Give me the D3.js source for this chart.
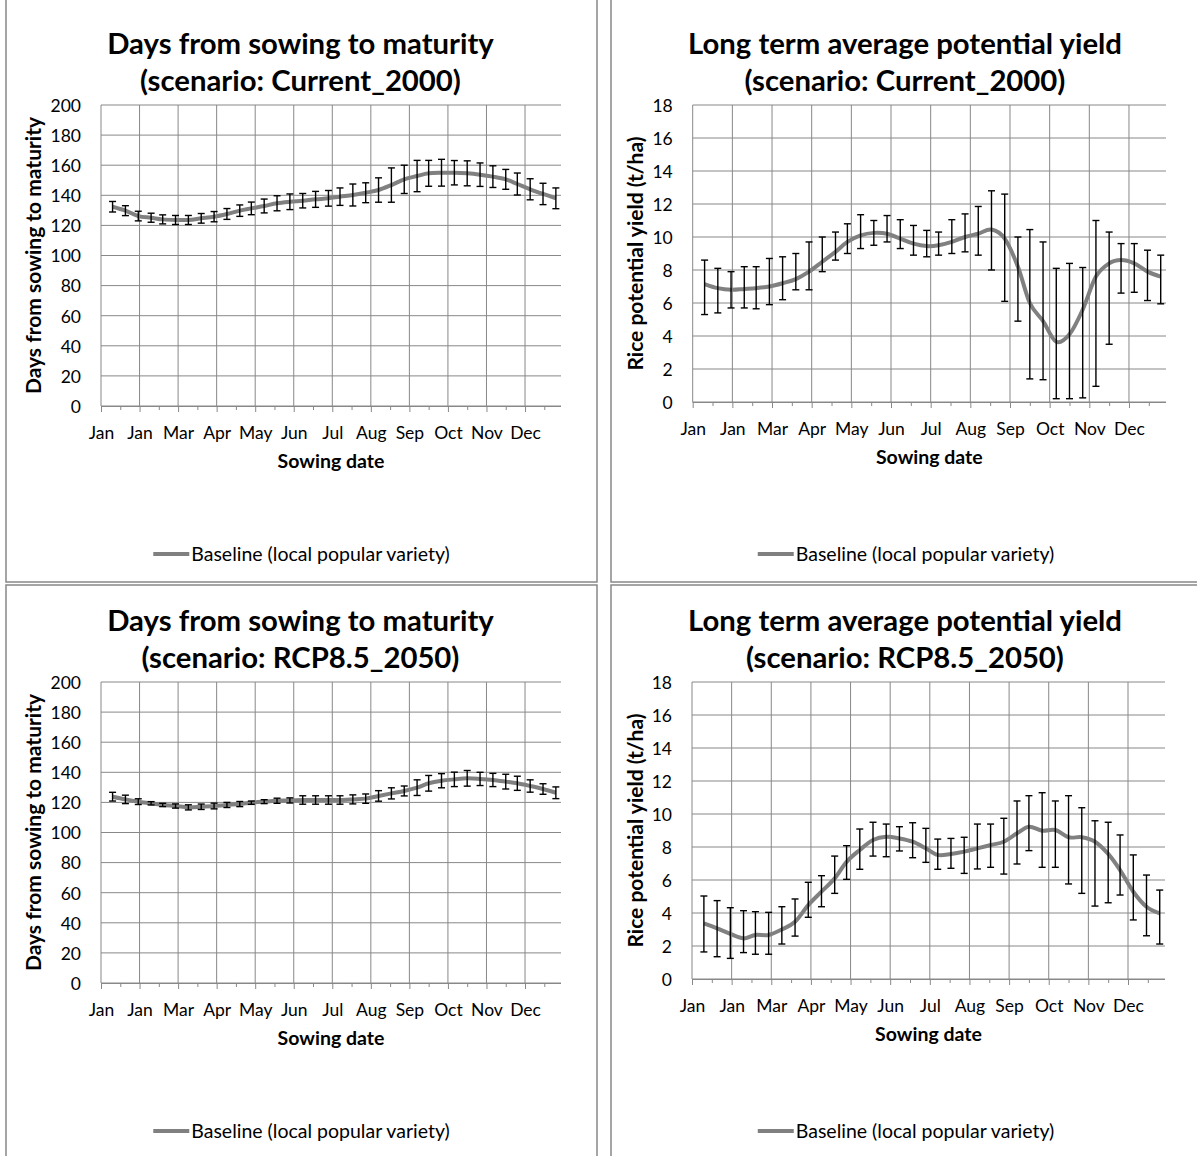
<!DOCTYPE html>
<html lang="en">
<head>
<meta charset="utf-8">
<style type="text/css">
body { margin: 0; background: #fff; }
svg { display: block; font-family: Lato, "Open Sans", sans-serif; }
.frame { fill: #fff; stroke: #888; stroke-width: 1.5px; }
.grid line { stroke: #888; stroke-width: 1px; }
.axis path, .axis line { stroke: #888; stroke-width: 1px; }
.axis text { font-size: 17.5px; fill: #000; font-family: Lato, sans-serif; }
.series { fill: none; stroke: #808080; stroke-width: 4px; stroke-linejoin: round; }
.errbar { stroke: #000; stroke-width: 1.4px; }
</style>
</head>
<body>
<svg width="1197" height="1156"></svg>
<script src="https://cdn.jsdelivr.net/npm/d3@7"></script>
<script>
// sowing dates, day of year (roughly every 10 days)
var sowingDay = [9, 19, 29, 39, 48, 58, 68, 78, 88, 98, 108, 117, 127, 137, 147, 157, 167, 177,
                 186, 196, 206, 216, 226, 236, 246, 255, 265, 275, 285, 295, 305, 315, 324, 334, 344, 354];
var monthLabels = ["Jan", "Jan", "Mar", "Apr", "May", "Jun", "Jul", "Aug", "Sep", "Oct", "Nov", "Dec"];

// days from sowing to maturity, Current_2000 (mean, +/- error)
var daysCurrent = [132.4, 129.8, 126.2, 125.1, 124.0, 123.6, 123.6, 124.7, 125.8, 127.6, 129.8, 131.3,
                   132.9, 134.7, 135.7, 136.4, 137.3, 138.0, 139.1, 140.2, 141.7, 143.5, 146.8, 150.6,
                   152.8, 154.6, 155.0, 155.0, 154.6, 153.7, 152.4, 150.6, 147.5, 144.0, 140.9, 138.0];
var daysCurrentErr = [3.5, 3.3, 3.2, 3.0, 3.0, 3.0, 3.0, 3.2, 3.4, 3.6, 3.8, 4.2,
                      4.6, 5.0, 5.2, 4.8, 5.3, 5.2, 5.8, 7.3, 6.6, 8.1, 11.4, 9.4,
                      10.4, 8.6, 8.9, 8.1, 8.3, 7.8, 7.2, 6.6, 7.3, 7.0, 7.1, 6.9];

// days from sowing to maturity, RCP8.5_2050
var daysRcp = [123.8, 122.0, 120.5, 119.4, 118.3, 117.6, 116.7, 117.1, 117.6, 118.3, 118.9, 119.8,
               120.5, 121.1, 121.3, 121.6, 121.6, 121.6, 121.6, 122.0, 122.5, 124.3, 126.0, 127.6,
               129.8, 132.7, 134.4, 135.3, 136.0, 135.6, 134.9, 133.8, 132.7, 130.9, 128.9, 126.4];
var daysRcpErr = [2.9, 2.8, 1.9, 1.1, 1.1, 1.4, 1.7, 1.8, 1.9, 1.7, 1.7, 1.1,
                  1.3, 1.7, 1.7, 2.8, 2.8, 2.8, 2.8, 3.0, 3.1, 3.5, 3.7, 3.3,
                  5.2, 5.2, 4.7, 4.8, 5.2, 4.4, 4.4, 4.9, 4.7, 4.1, 3.5, 3.9];

// potential yield (t/ha), Current_2000: mean, low end, high end of bar
var yieldCurrent = [7.15, 6.9, 6.8, 6.85, 6.9, 7.0, 7.2, 7.45, 7.9, 8.5, 9.1, 9.7,
                    10.1, 10.25, 10.2, 9.9, 9.6, 9.45, 9.5, 9.7, 10.0, 10.2, 10.45, 9.9,
                    8.2, 6.0, 4.9, 3.65, 4.1, 5.6, 7.6, 8.4, 8.6, 8.4, 7.9, 7.6];
var yieldCurrentLow = [5.3, 5.4, 5.7, 5.7, 5.65, 5.9, 6.2, 6.8, 6.8, 7.9, 8.6, 9.0,
                       9.3, 9.5, 9.7, 9.3, 8.9, 8.8, 8.9, 9.0, 9.1, 8.9, 8.0, 6.1,
                       4.9, 1.4, 1.35, 0.2, 0.2, 0.25, 0.95, 3.5, 6.6, 6.65, 6.15, 5.95];
var yieldCurrentHigh = [8.6, 8.1, 7.9, 8.2, 8.2, 8.7, 8.8, 9.0, 9.7, 10.0, 10.3, 10.8,
                        11.35, 11.0, 11.3, 11.05, 10.7, 10.4, 10.3, 11.05, 11.4, 11.85, 12.8, 12.6,
                        10.0, 10.45, 9.7, 8.1, 8.4, 8.15, 11.0, 10.3, 9.6, 9.6, 9.2, 8.9];

// potential yield (t/ha), RCP8.5_2050
var yieldRcp = [3.37, 3.07, 2.73, 2.46, 2.67, 2.67, 3.0, 3.47, 4.48, 5.29, 6.1, 7.1,
                7.82, 8.42, 8.62, 8.52, 8.32, 7.92, 7.52, 7.58, 7.72, 7.92, 8.12, 8.32,
                8.83, 9.23, 8.99, 9.03, 8.59, 8.59, 8.32, 7.58, 6.6, 5.29, 4.38, 3.98];
var yieldRcpLow = [1.64, 1.35, 1.25, 1.6, 1.5, 1.5, 2.12, 2.6, 3.74, 4.38, 5.19, 6.04,
                   6.65, 7.45, 7.41, 7.76, 7.35, 7.07, 6.65, 6.71, 6.4, 6.67, 6.77, 6.36,
                   6.97, 7.78, 6.77, 6.77, 5.76, 5.19, 4.42, 4.62, 5.09, 3.58, 2.62, 2.12];
var yieldRcpHigh = [5.03, 4.75, 4.32, 4.14, 4.08, 4.04, 4.38, 4.85, 5.86, 6.26, 7.45, 8.08,
                    9.09, 9.5, 9.39, 9.23, 9.47, 9.13, 8.48, 8.52, 8.59, 9.39, 9.39, 9.74,
                    10.79, 11.11, 11.29, 10.79, 11.11, 10.38, 9.59, 9.5, 8.73, 7.52, 6.3, 5.39];

var daysTicks = [0, 20, 40, 60, 80, 100, 120, 140, 160, 180, 200];
var yieldTicks = [0, 2, 4, 6, 8, 10, 12, 14, 16, 18];

var svg = d3.select("svg");
var majorDays = d3.range(0, 331, 30),
    minorDays = d3.range(15, 346, 30);

var panels = [
    {box: [6, -2, 591, 584], plot: [101, 561, 105, 406],
     title: ["Days from sowing to maturity", "(scenario: Current_2000)"],
     yTitle: "Days from sowing to maturity", yTitleX: 41, ticks: daysTicks,
     mean: daysCurrent,
     lo: daysCurrent.map(function (v, i) { return v - daysCurrentErr[i]; }),
     hi: daysCurrent.map(function (v, i) { return v + daysCurrentErr[i]; })},
    {box: [611, -2, 590, 584], plot: [692.7, 1166, 105, 402],
     title: ["Long term average potential yield", "(scenario: Current_2000)"],
     yTitle: "Rice potential yield (t/ha)", yTitleX: 643, ticks: yieldTicks,
     mean: yieldCurrent, lo: yieldCurrentLow, hi: yieldCurrentHigh},
    {box: [6, 585, 591, 575], plot: [101, 561, 682, 983],
     title: ["Days from sowing to maturity", "(scenario: RCP8.5_2050)"],
     yTitle: "Days from sowing to maturity", yTitleX: 41, ticks: daysTicks,
     mean: daysRcp,
     lo: daysRcp.map(function (v, i) { return v - daysRcpErr[i]; }),
     hi: daysRcp.map(function (v, i) { return v + daysRcpErr[i]; })},
    {box: [611, 585, 590, 575], plot: [692, 1165, 682, 979],
     title: ["Long term average potential yield", "(scenario: RCP8.5_2050)"],
     yTitle: "Rice potential yield (t/ha)", yTitleX: 643, ticks: yieldTicks,
     mean: yieldRcp, lo: yieldRcpLow, hi: yieldRcpHigh}
];

panels.forEach(drawPanel);

function drawPanel(p) {
    var g = svg.append("g");
    var bx = p.box[0], by = p.box[1], bw = p.box[2], bh = p.box[3];
    var top = by < 0 ? 0 : by - 8;
    var left = p.plot[0], right = p.plot[1], ptop = p.plot[2], pbot = p.plot[3];

    g.append("rect").attr("class", "frame")
        .attr("x", bx).attr("y", by).attr("width", bw).attr("height", bh);

    var x = d3.scaleLinear().domain([0, 358]).range([left, right]);
    var y = d3.scaleLinear().domain([0, d3.max(p.ticks)]).range([pbot, ptop]);

    // gridlines
    var grid = g.append("g").attr("class", "grid");
    grid.selectAll(".h").data(p.ticks).enter().append("line")
        .attr("x1", left).attr("x2", right)
        .attr("y1", function (d) { return y(d); }).attr("y2", function (d) { return y(d); });
    grid.selectAll(".v").data(majorDays).enter().append("line")
        .attr("y1", ptop).attr("y2", pbot)
        .attr("x1", function (d) { return x(d); }).attr("x2", function (d) { return x(d); });

    // y axis
    var ya = g.append("g").attr("class", "axis")
        .attr("transform", "translate(" + left + ",0)")
        .call(d3.axisLeft(y).tickValues(p.ticks).tickSize(0).tickPadding(20));
    ya.select(".domain").remove();
    ya.selectAll("text").attr("dy", "0.36em");

    // x axis
    var xa = g.append("g").attr("class", "axis")
        .attr("transform", "translate(0," + pbot + ")")
        .call(d3.axisBottom(x).tickValues(majorDays).tickSizeInner(6).tickSizeOuter(0)
            .tickFormat(function (d, i) { return monthLabels[i]; }));
    xa.select(".domain").attr("d", "M" + left + ",0.5H" + right);
    xa.selectAll("text").attr("y", 33).attr("dy", 0);
    g.append("g").attr("class", "axis")
        .attr("transform", "translate(0," + pbot + ")")
        .call(d3.axisBottom(x).tickValues(minorDays).tickSizeInner(4).tickSizeOuter(0).tickFormat(""))
        .select(".domain").remove();

    // titles
    var cx = bx + bw / 2;
    g.append("text").attr("x", cx - 1).attr("y", top + 54)
        .attr("text-anchor", "middle").style("font-size", "29.3px").style("font-weight", "bold")
        .text(p.title[0]);
    g.append("text").attr("x", cx - 1).attr("y", top + 91)
        .attr("text-anchor", "middle").style("font-size", "29.3px").style("font-weight", "bold")
        .text(p.title[1]);

    g.append("text")
        .attr("transform", "translate(" + p.yTitleX + "," + ((ptop + pbot) / 2) + ") rotate(-90)")
        .attr("text-anchor", "middle").style("font-size", "21px").style("font-weight", "bold")
        .text(p.yTitle);
    g.append("text").attr("x", (left + right) / 2).attr("y", pbot + 62)
        .attr("text-anchor", "middle").style("font-size", "19.5px").style("font-weight", "bold")
        .text("Sowing date");

    // series line
    var line = d3.line()
        .x(function (d, i) { return x(sowingDay[i]); })
        .y(function (d) { return y(d); })
        .curve(d3.curveCardinal.tension(0));
    g.append("path").attr("class", "series").attr("d", line(p.mean));

    // error bars
    var bars = g.append("g").selectAll("g").data(p.mean).enter().append("g")
        .attr("class", "errbar");
    bars.append("line")
        .attr("x1", function (d, i) { return x(sowingDay[i]); })
        .attr("x2", function (d, i) { return x(sowingDay[i]); })
        .attr("y1", function (d, i) { return y(p.lo[i]); })
        .attr("y2", function (d, i) { return y(p.hi[i]); });
    bars.append("line")
        .attr("x1", function (d, i) { return x(sowingDay[i]) - 3.5; })
        .attr("x2", function (d, i) { return x(sowingDay[i]) + 3.5; })
        .attr("y1", function (d, i) { return y(p.lo[i]); })
        .attr("y2", function (d, i) { return y(p.lo[i]); });
    bars.append("line")
        .attr("x1", function (d, i) { return x(sowingDay[i]) - 3.5; })
        .attr("x2", function (d, i) { return x(sowingDay[i]) + 3.5; })
        .attr("y1", function (d, i) { return y(p.hi[i]); })
        .attr("y2", function (d, i) { return y(p.hi[i]); });

    // legend
    var ly = top + 554;
    var leg = g.append("g");
    var lt = leg.append("text").attr("x", 38).attr("y", 0).attr("dy", "0.35em")
        .style("font-size", "19.5px").text("Baseline (local popular variety)");
    var lw = 38 + lt.node().getComputedTextLength();
    leg.insert("line", "text").attr("x1", 0).attr("x2", 36).attr("y1", 0).attr("y2", 0)
        .attr("class", "series");
    leg.attr("transform", "translate(" + (cx - lw / 2) + "," + ly + ")");
}
</script>
</body>
</html>
